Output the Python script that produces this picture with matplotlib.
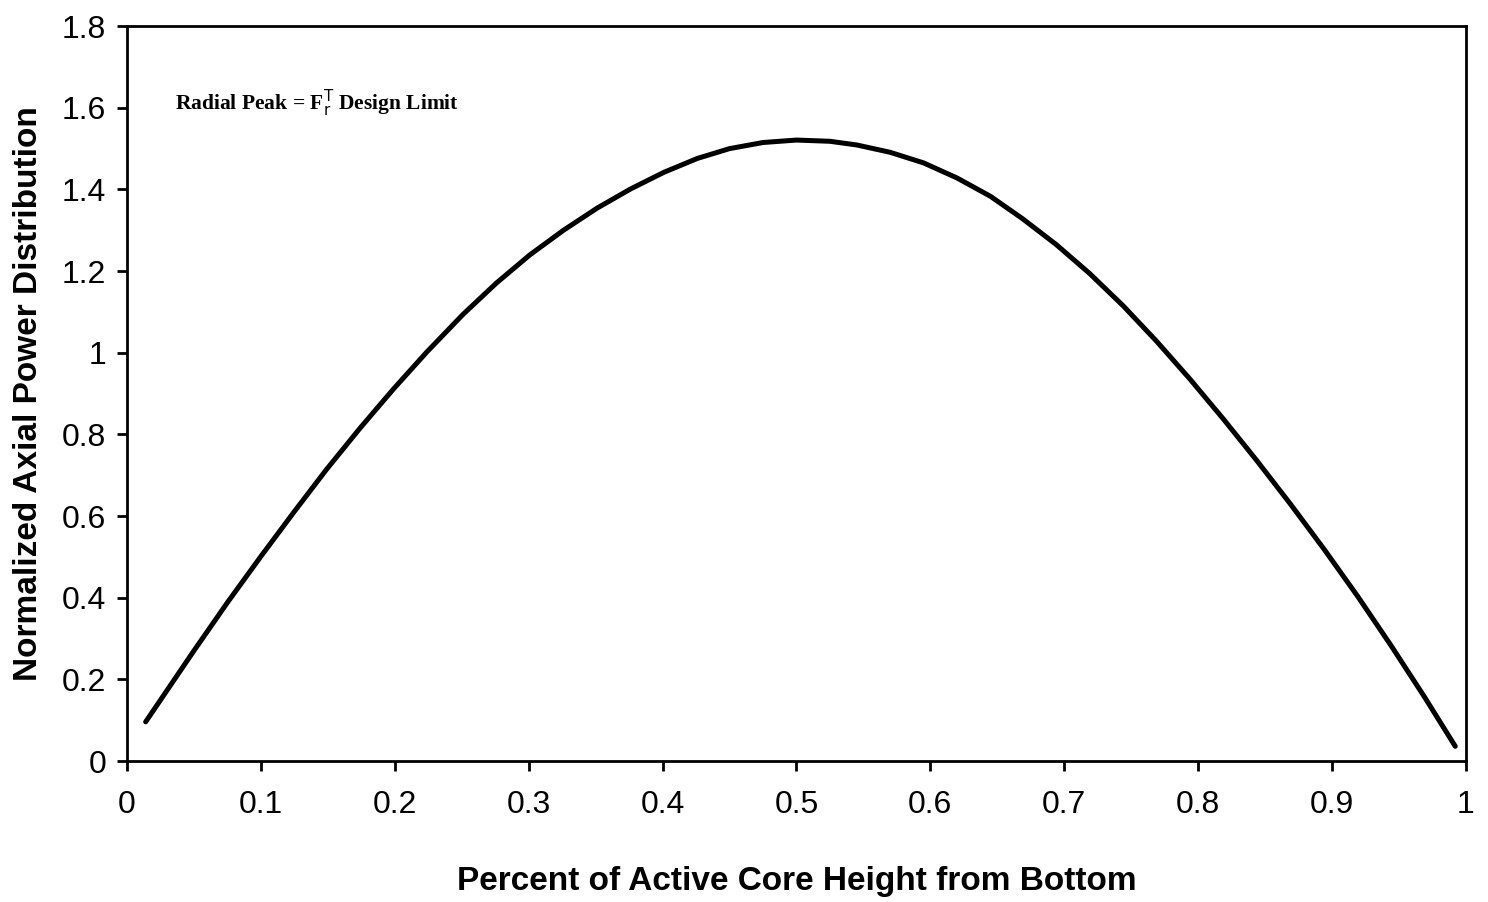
import numpy as np
import matplotlib.pyplot as plt

# points
height = [0.014, 0.050, 0.075, 0.100, 0.125, 0.149, 0.174, 0.199, 0.224, 0.251,
          0.276, 0.301, 0.326, 0.351, 0.376, 0.401, 0.426, 0.450, 0.475, 0.500,
          0.525, 0.545, 0.570, 0.595, 0.620, 0.645, 0.669, 0.694, 0.719, 0.744,
          0.769, 0.794, 0.819, 0.844, 0.869, 0.894, 0.919, 0.944, 0.969, 0.992]
power = [0.096, 0.270, 0.388, 0.501, 0.611, 0.714, 0.815, 0.911, 1.002, 1.094,
         1.171, 1.240, 1.300, 1.354, 1.401, 1.442, 1.476, 1.500, 1.515, 1.521,
         1.518, 1.509, 1.491, 1.465, 1.428, 1.383, 1.328, 1.265, 1.194, 1.115,
         1.028, 0.935, 0.837, 0.735, 0.629, 0.519, 0.404, 0.283, 0.157, 0.036]

xticks = [0, 0.1, 0.2, 0.3, 0.4, 0.5, 0.6, 0.7, 0.8, 0.9, 1]
xlabels = ['0', '0.1', '0.2', '0.3', '0.4', '0.5', '0.6', '0.7', '0.8', '0.9', '1']
yticks = [0, 0.2, 0.4, 0.6, 0.8, 1.0, 1.2, 1.4, 1.6, 1.8]
ylabels = ['0', '0.2', '0.4', '0.6', '0.8', '1', '1.2', '1.4', '1.6', '1.8']

plt.rcParams['font.family'] = ['Liberation Sans', 'DejaVu Sans']

fig = plt.figure(figsize=(14.88, 9.02), dpi=100)
ax = fig.add_axes([0.0853, 0.1563, 0.8999, 0.8147])

ax.plot(height, power, color='black', lw=3.6, solid_capstyle='round',
        solid_joinstyle='round')

ax.set_xlim(0, 1)
ax.set_ylim(0, 1.8)
ax.set_xticks(xticks)
ax.set_xticklabels(xlabels)
ax.set_yticks(yticks)
ax.set_yticklabels(ylabels)
ax.tick_params(axis='both', direction='out', length=7, width=2, labelsize=23)
ax.tick_params(axis='x', pad=14)
ax.tick_params(axis='y', pad=8)
for s in ax.spines.values():
    s.set_linewidth(2)

ax.set_xlabel('Percent of Active Core Height from Bottom', fontsize=24,
              fontweight='bold', labelpad=33)
ax.set_ylabel('Normalized Axial Power Distribution', fontsize=24,
              fontweight='bold', labelpad=13)

ax.text(0.036, 1.61, r'Radial Peak = F$_{\mathrm{r}}^{\mathrm{T}}$ Design Limit',
        fontsize=15.5, fontweight='bold', family='Liberation Serif', va='center')

fig.savefig('out.png', dpi=100)
